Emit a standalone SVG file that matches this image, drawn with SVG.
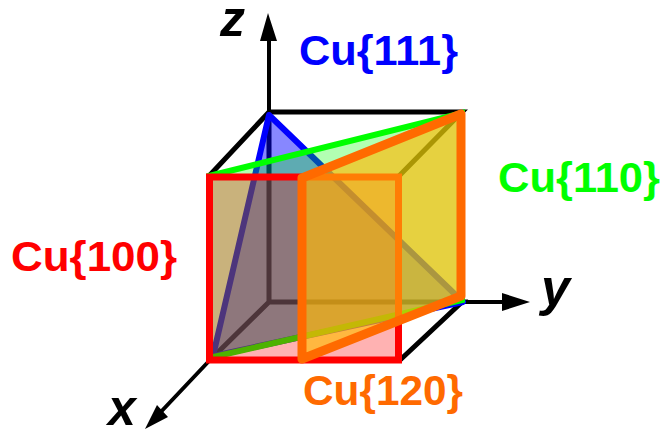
<svg xmlns="http://www.w3.org/2000/svg" width="664" height="433" viewBox="0 0 664 433">
<style>
.k{fill:none;stroke:#000;stroke-width:5}
.ax{fill:none;stroke:#000;stroke-width:4}
.h{fill:#000}
text{font-family:"Liberation Sans",Arial,sans-serif;font-weight:bold;font-size:43px}
.a{font-style:italic;font-size:50px;fill:#000}
</style>
<rect width="664" height="433" fill="#fff"/>
<g id="connectors">
<path class="ax" d="M269 113V35M462 302H510M209 361L157 416"/>
<path class="h" d="M268 13L260 41H277ZM530 302L502 293V311ZM145 429L157 405L168 417Z"/>
<path class="k" d="M209 176L269 112H462L399 176M399 361L462 302H269V112M269 302L209 361"/>
</g>
<g id="face-111"><path d="M269 115L463 302L213 356Z" fill="#0000ff" fill-opacity=".47" stroke="#0000ff" stroke-width="6" stroke-linejoin="round"/></g>
<g id="face-110"><path d="M209 176L462 113V300L209 358Z" fill="#00ff00" fill-opacity=".3" stroke="#00ff00" stroke-width="6"/></g>
<g id="face-100"><rect x="209.500" y="177" width="189" height="183" fill="#ff0000" fill-opacity=".3" stroke="#ff0000" stroke-width="7"/></g>
<g id="face-120"><path d="M302 178L461 114V296L302 359Z" fill="#ffbb08" fill-opacity=".67" stroke="#ff6a00" stroke-width="9" stroke-linejoin="round"/></g>
<g id="labels">
<text class="a" x="220" y="36">z</text>
<text class="a" x="541" y="305" style="font-size:52px">y</text>
<text class="a" x="108" y="425">x</text>
<text x="299" y="65" fill="#0000ff" textLength="159" lengthAdjust="spacingAndGlyphs">Cu{111}</text>
<text x="498" y="192" fill="#00ff00" textLength="162" lengthAdjust="spacingAndGlyphs">Cu{110}</text>
<text x="11" y="271" fill="#ff0000" textLength="166" lengthAdjust="spacingAndGlyphs">Cu{100}</text>
<text x="303" y="405" fill="#ff6a00" textLength="160" lengthAdjust="spacingAndGlyphs">Cu{120}</text>
</g>
</svg>
